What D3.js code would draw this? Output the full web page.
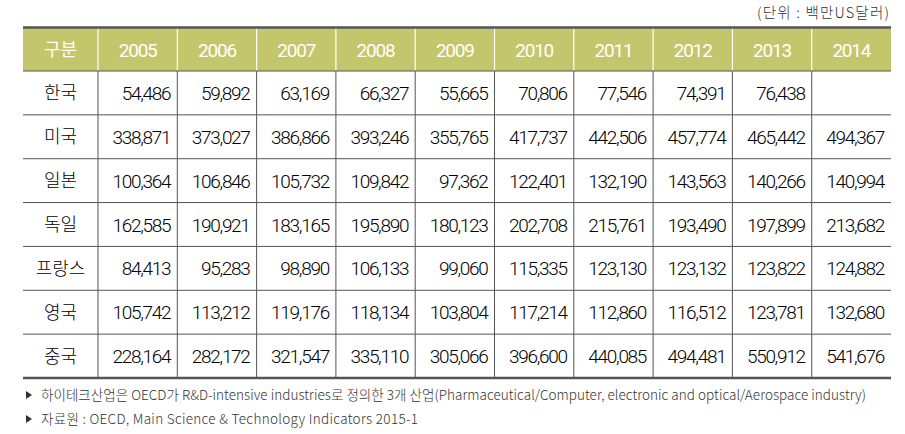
<!DOCTYPE html>
<html><head><meta charset="utf-8">
<script src="https://cdn.jsdelivr.net/npm/d3@7"></script>
<style>
body{margin:0;background:#fff;}
svg{display:block;}
</style></head>
<body>
<svg id="c" width="905" height="434"></svg>
<script>
const years = ["2005","2006","2007","2008","2009","2010","2011","2012","2013","2014"];
const countries = ["한국","미국","일본","독일","프랑스","영국","중국"];
const korea   = [54486, 59892, 63169, 66327, 55665, 70806, 77546, 74391, 76438, null];
const usa     = [338871, 373027, 386866, 393246, 355765, 417737, 442506, 457774, 465442, 494367];
const japan   = [100364, 106846, 105732, 109842, 97362, 122401, 132190, 143563, 140266, 140994];
const germany = [162585, 190921, 183165, 195890, 180123, 202708, 215761, 193490, 197899, 213682];
const france  = [84413, 95283, 98890, 106133, 99060, 115335, 123130, 123132, 123822, 124882];
const uk      = [105742, 113212, 119176, 118134, 103804, 117214, 112860, 116512, 123781, 132680];
const china   = [228164, 282172, 321547, 335110, 305066, 396600, 440085, 494481, 550912, 541676];
const headerLabel = "구분";
const unitLabel = "(단위 : 백만US달러)";
const notes = [
  "하이테크산업은 OECD가 R&D-intensive industries로 정의한 3개 산업(Pharmaceutical/Computer, electronic and optical/Aerospace industry)",
  "자료원 : OECD, Main Science & Technology Indicators 2015-1"
];
const series = [korea, usa, japan, germany, france, uk, china];

(function(){
const svg = d3.select("#c");
const L = 23, R = 891, firstColR = 98;
const T = 28, headBottom = 71, B = 378;
const x = d3.scaleBand().domain(years).range([firstColR, R]);
const y = d3.scaleBand().domain(countries).range([headBottom, B]);
const fmt = d3.format(",");
const numFont = "Roboto, 'Liberation Sans', Arial, sans-serif";
const krFont = "'Noto Sans CJK KR', 'Noto Sans', sans-serif";

svg.append("text").attr("x", 889).attr("y", 18).attr("text-anchor","end")
  .attr("font-family", krFont).attr("font-weight",300).attr("font-size", 14.5).attr("fill","#333")
  .attr("textLength", 132).attr("lengthAdjust","spacing").text(unitLabel);

svg.append("rect").attr("x", L).attr("y", T).attr("width", R-L).attr("height", headBottom-T)
  .attr("fill", "#c4c66b");
years.forEach(yr => {
  svg.append("line").attr("x1", x(yr)).attr("x2", x(yr)).attr("y1", T).attr("y2", headBottom)
    .attr("stroke","#fff").attr("stroke-width",1.2);
});
svg.append("text").attr("x",(L+firstColR)/2).attr("y",(T+headBottom)/2+6).attr("text-anchor","middle")
  .attr("font-family", krFont).attr("font-weight",400).attr("font-size",18).attr("fill","#fff").text(headerLabel);
svg.selectAll("text.yr").data(years).join("text").attr("class","yr")
  .attr("x", d => x(d)+x.bandwidth()/2).attr("y",(T+headBottom)/2+7)
  .attr("text-anchor","middle").attr("font-family", numFont).attr("font-weight",400).attr("font-size",19)
  .attr("letter-spacing","-1.2px").attr("fill","#fff").text(d=>d);

years.forEach(yr => {
  svg.append("line").attr("x1", x(yr)).attr("x2", x(yr)).attr("y1", headBottom).attr("y2", B)
    .attr("stroke","#555").attr("stroke-width",1);
});
countries.forEach((c,i) => {
  if (i>0) svg.append("line").attr("x1",L).attr("x2",R).attr("y1",y(c)).attr("y2",y(c))
    .attr("stroke","#555").attr("stroke-width",1);
});
svg.append("line").attr("x1",L).attr("x2",R).attr("y1",headBottom).attr("y2",headBottom)
  .attr("stroke","#555").attr("stroke-width",1);
svg.append("line").attr("x1",L).attr("x2",R).attr("y1",T-0.5).attr("y2",T-0.5)
  .attr("stroke","#555").attr("stroke-width",2.5);
svg.append("line").attr("x1",L).attr("x2",R).attr("y1",B).attr("y2",B)
  .attr("stroke","#555").attr("stroke-width",2.5);

svg.selectAll("text.cn").data(countries).join("text").attr("class","cn")
  .attr("x",(L+firstColR)/2).attr("y", d => y(d)+y.bandwidth()/2+6.5)
  .attr("text-anchor","middle").attr("font-family", krFont).attr("font-weight",300).attr("font-size",18).attr("fill","#000").text(d=>d);

countries.forEach((c,i) => {
  svg.selectAll(null).data(series[i].map((v,j)=>({v, yr:years[j]})).filter(d=>d.v!=null)).join("text")
    .attr("x", d => x(d.yr)+x.bandwidth()-7).attr("y", y(c)+y.bandwidth()/2+7)
    .attr("text-anchor","end").attr("font-family", numFont).attr("font-weight",300).attr("font-size",19)
    .attr("letter-spacing","-1.3px").attr("fill","#000").text(d=>fmt(d.v));
});

const noteLen = [825, 377];
notes.forEach((n,i) => {
  const yy = 400 + i*24;
  svg.append("path").attr("d", `M26,${yy-9} L32,${yy-5} L26,${yy-1} Z`).attr("fill","#333");
  svg.append("text").attr("x",41).attr("y",yy).attr("font-family", krFont).attr("font-weight",300).attr("font-size",13.5)
    .attr("fill","#333").attr("textLength", noteLen[i]).attr("lengthAdjust","spacing").text(n);
});
})();
</script>
</body></html>
